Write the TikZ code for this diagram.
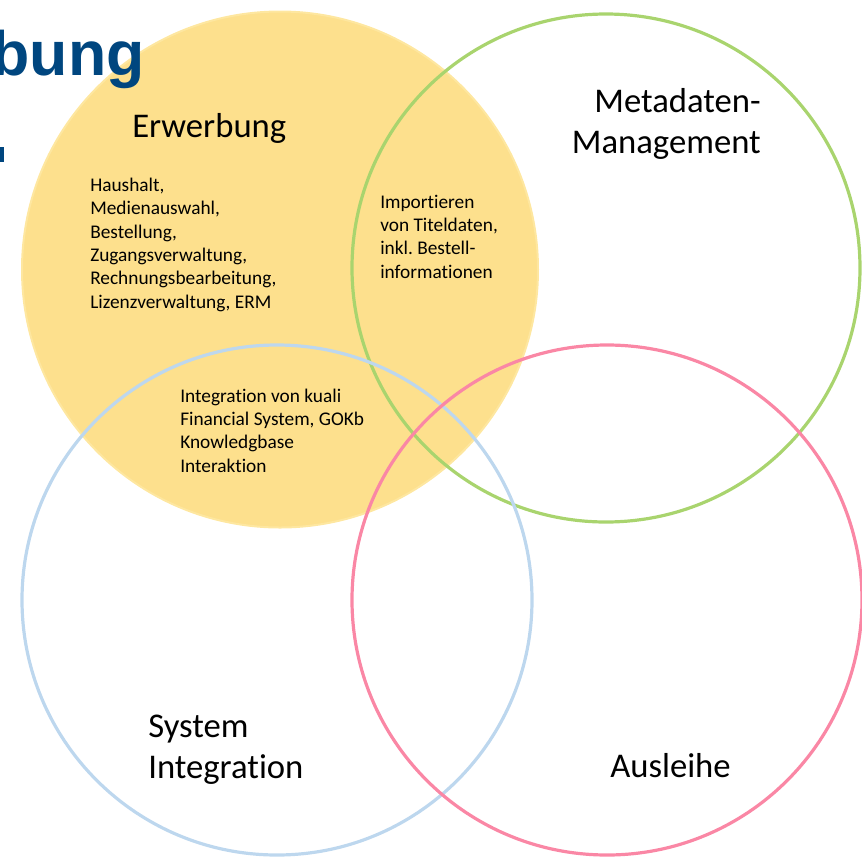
\documentclass[tikz,border=0pt]{standalone}
\usepackage{fontspec}
\setmainfont{Carlito}[Ligatures={NoCommon}]
\newfontfamily\titlefont{Liberation Sans}
\frenchspacing
\definecolor{titleblue}{RGB}{0,70,127}
\definecolor{erwfill}{RGB}{253,224,141}
\definecolor{erwline}{RGB}{254,231,160}
\definecolor{metagreen}{RGB}{169,212,110}
\definecolor{sysblue}{RGB}{189,215,238}
\definecolor{auspink}{RGB}{250,135,165}
\begin{document}
\begin{tikzpicture}[x=0.75pt,y=0.75pt,yscale=-1,xscale=1,
  labelbig/.style={inner sep=0pt, font=\fontsize{26}{30.75}\selectfont},
  labelsmall/.style={inner sep=0pt, font=\fontsize{14.5}{17.5}\selectfont},
  ring/.style={line width=2.4pt}]
	\useasboundingbox (0,0) rectangle (862,865);
	\draw [color=erwline, fill=erwfill, line width=1.5pt] (280,269.5) circle (258);
	\draw [ring, color=metagreen] (606,268) circle (254);
	\draw [ring, color=sysblue] (277,600) circle (255);
	\draw [ring, color=auspink] (607,600) circle (255);
	\node (titel) [anchor=base east, inner sep=0pt, text=titleblue, font=\titlefont\bfseries\fontsize{47}{50}\selectfont] at (145,75) {bung};
	\fill [titleblue] (0,147) rectangle (4,162);
	\node (erw) [labelbig, anchor=base west] at (132,137) {Erwerbung};
	\node (meta) [labelbig, anchor=base east, align=right] at (761,153) {Metadaten-\\Management};
	\node (sys) [labelbig, anchor=base west, align=left] at (148,778) {System\\Integration};
	\node (aus) [labelbig, anchor=base west] at (610,777) {Ausleihe};
	\node (erwlist) [labelsmall, anchor=base west, align=left] at (90,308) {Haushalt,\\Medienauswahl,\\Bestellung,\\Zugangsverwaltung,\\Rechnungsbearbeitung,\\Lizenzverwaltung, ERM};
	\node (import) [labelsmall, anchor=base west, align=left] at (380,278) {Importieren\\von Titeldaten,\\inkl. Bestell-\\informationen};
	\node (kuali) [labelsmall, anchor=base west, align=left] at (180,472) {Integration von kuali\\Financial System, GOKb\\Knowledgbase\\Interaktion};
\end{tikzpicture}
\end{document}
